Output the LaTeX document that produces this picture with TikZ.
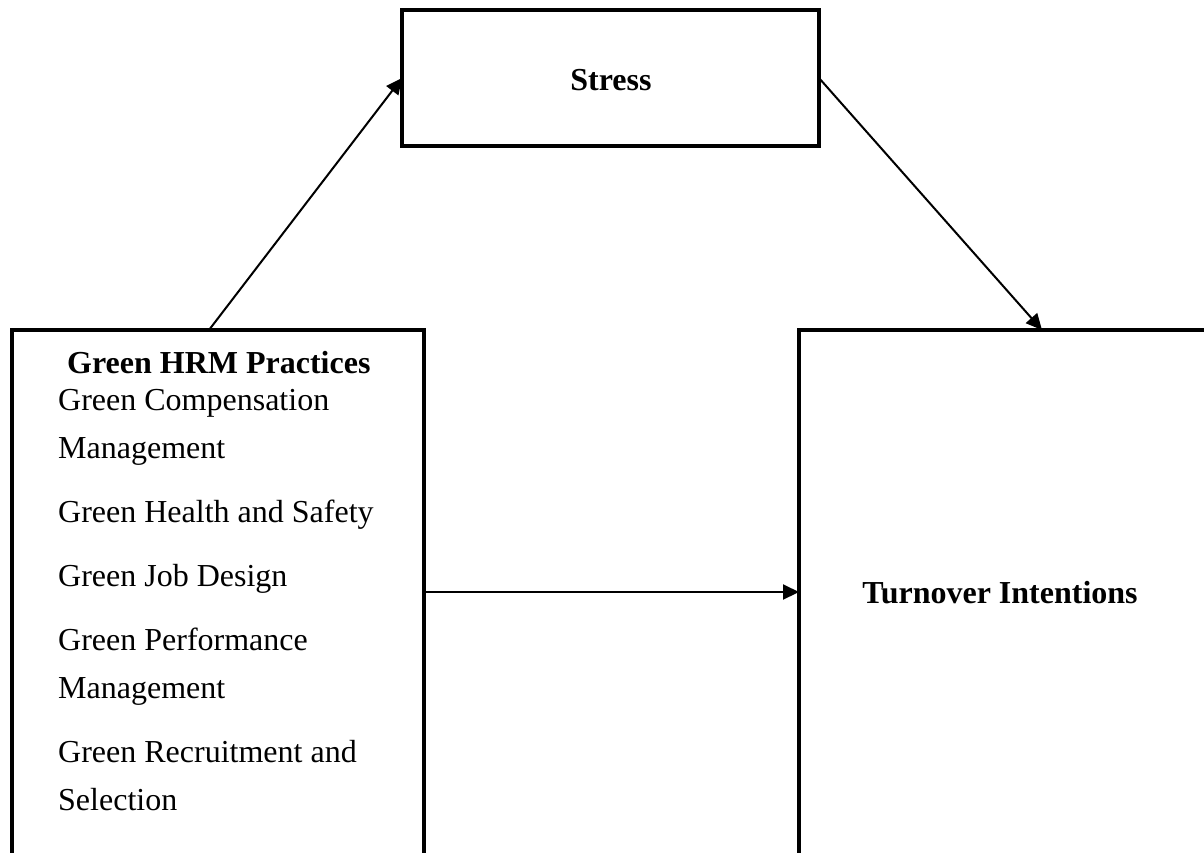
\documentclass[tikz,border=0pt]{standalone}
\usepackage{fontspec}
\setmainfont{Liberation Serif}
\usetikzlibrary{arrows.meta}
\begin{document}
\begin{tikzpicture}[x=1pt,y=-1pt,
  box/.style={draw=black,line width=4pt,rectangle,inner sep=0pt,outer sep=0pt},
  conn/.style={draw=black,line width=2pt,-{Triangle[length=16pt,width=15pt]}},
  item/.style={anchor=base west,inner sep=0pt,font=\fontsize{32}{38}\selectfont},
  head/.style={anchor=base,inner sep=0pt,font=\fontsize{32}{38}\selectfont\bfseries}]
\useasboundingbox (0,0) rectangle (1204,852);
\clip (0,0) rectangle (1204,852);
\fill[white] (0,0) rectangle (1204,852);
% boxes
\node[box,minimum width=417pt,minimum height=136pt,anchor=north west] (stress) at (402,10) {};
\node[box,minimum width=412pt,minimum height=580pt,anchor=north west] (hrm) at (12,330) {};
\node[box,minimum width=460pt,minimum height=580pt,anchor=north west] (ti) at (799,330) {};
% texts
\node[head] (stresst) at (611,90) {Stress};
\node[head,anchor=base west] (hrmt) at (67,373) {Green HRM Practices};
\node[item] (i1) at (58,410) {Green Compensation};
\node[item] (i2) at (58,458) {Management};
\node[item] (i3) at (58,522) {Green Health and Safety};
\node[item] (i4) at (58,586) {Green Job Design};
\node[item] (i5) at (58,650) {Green Performance};
\node[item] (i6) at (58,698) {Management};
\node[item] (i7) at (58,762) {Green Recruitment and};
\node[item] (i8) at (58,810) {Selection};
\node[head] (tit) at (1000,603) {Turnover Intentions};
% connector anchors
\coordinate (a1) at ([xshift=-9pt]hrm.north);
\coordinate (a2) at ([xshift=243pt]ti.north west);
\coordinate (h1) at ([yshift=-262pt]hrm.north east);
% connectors
\draw[conn] (a1) -- (stress.west);
\draw[conn] (stress.east) -- (a2);
\draw[conn] (h1) -- (ti.west |- h1);
\end{tikzpicture}
\end{document}
